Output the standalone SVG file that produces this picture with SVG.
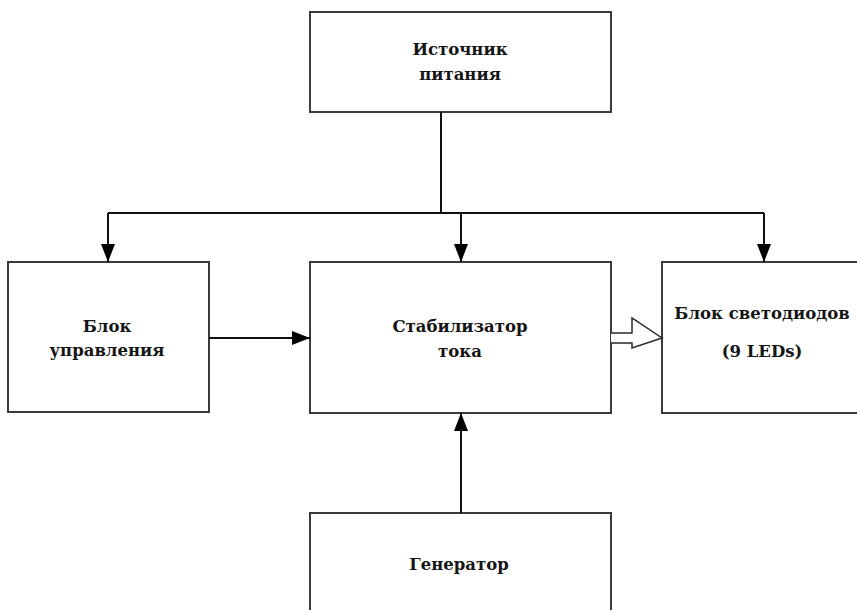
<svg xmlns="http://www.w3.org/2000/svg" width="857" height="610" viewBox="0 0 857 610">
  <style>
    .box { fill: #ffffff; stroke: #3a3a3a; stroke-width: 2; }
    .lbl { font-family: 'DejaVu Serif', 'Liberation Serif', serif; font-weight: bold; font-size: 16.5px; fill: #151515; text-anchor: middle; }
    .wire { fill: none; stroke: #111111; stroke-width: 2; }
  </style>
  <defs>
    <marker id="arrow" viewBox="0 0 18 14" refX="18" refY="7" markerWidth="18" markerHeight="14" markerUnits="userSpaceOnUse" orient="auto">
      <path d="M0,0 L18,7 L0,14 Z" fill="#000000"/>
    </marker>
  </defs>
  <rect width="857" height="610" fill="#ffffff"/>

  <g id="power">
    <rect class="box" x="310" y="12" width="301" height="100"/>
    <text class="lbl" x="460" y="55">Источник</text>
    <text class="lbl" x="460" y="80">питания</text>
  </g>

  <g id="control">
    <rect class="box" x="8" y="262" width="201" height="150"/>
    <text class="lbl" x="107" y="332">Блок</text>
    <text class="lbl" x="107" y="356">управления</text>
  </g>

  <g id="stabilizer">
    <rect class="box" x="310" y="262" width="301" height="151"/>
    <text class="lbl" x="460" y="332">Стабилизатор</text>
    <text class="lbl" x="460" y="357">тока</text>
  </g>

  <g id="leds">
    <rect class="box" x="662" y="262" width="210" height="151"/>
    <text class="lbl" x="762" y="319">Блок светодиодов</text>
    <text class="lbl" x="762" y="357">(9 LEDs)</text>
  </g>

  <g id="generator">
    <rect class="box" x="310" y="513" width="301" height="110"/>
    <text class="lbl" x="459" y="570">Генератор</text>
  </g>

  <g id="connectors">
    <!-- supply bus -->
    <path class="wire" d="M441,112 V213"/>
    <path class="wire" d="M108,213 H764"/>
    <path class="wire" d="M108,213 V262" marker-end="url(#arrow)"/>
    <path class="wire" d="M461,213 V262" marker-end="url(#arrow)"/>
    <path class="wire" d="M764,213 V262" marker-end="url(#arrow)"/>
    <!-- control to stabilizer -->
    <path class="wire" d="M209,338 H310" marker-end="url(#arrow)"/>
    <!-- generator to stabilizer -->
    <path class="wire" d="M461,513 V413" marker-end="url(#arrow)"/>
    <!-- hollow power arrow to LED block -->
    <path d="M611,333 H632 V318 L662,338 L632,348 V343 H611" fill="#ffffff" stroke="#2a2a2a" stroke-width="1.5" stroke-linejoin="miter"/>
  </g>
</svg>
